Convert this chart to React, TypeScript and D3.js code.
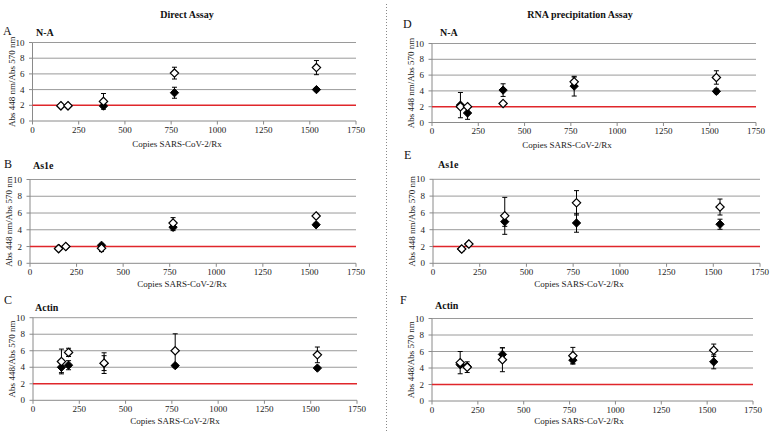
import React from "react";
import * as d3 from "d3";

// ---- data ----
const copies = [153.6, 192, 384, 768, 1536];
const xTicks = [0, 250, 500, 750, 1000, 1250, 1500, 1750];
const yTicks = [0, 2, 4, 6, 8, 10];
const gridValues = [4, 6, 8, 10];
const cutoff = 2;

// Direct assay
const naDirectFilled = [1.9, 1.9, 1.9, 3.6, 4.0];
const naDirectFilledErr = [0.1, 0.1, 0.15, 0.7, 0.2];
const naDirectOpen = [1.95, 1.95, 2.5, 6.1, 6.8];
const naDirectOpenErr = [0.1, 0.1, 1.0, 0.75, 0.9];

const as1eDirectFilled = [1.8, 2.0, 2.15, 4.3, 4.6];
const as1eDirectFilledErr = [0.15, 0.1, 0.2, 0.4, 0.2];
const as1eDirectOpen = [1.75, 2.0, 1.8, 4.8, 5.65];
const as1eDirectOpenErr = [0.15, 0.1, 0.4, 0.65, 0.2];

const actinDirectFilled = [4.0, 4.25, 4.5, 4.2, 3.9];
const actinDirectFilledErr = [0.65, 0.55, 0.9, 0.15, 0.2];
const actinDirectOpen = [4.7, 5.8, 4.5, 6.0, 5.5];
const actinDirectOpenErr = [1.5, 0.5, 1.25, 2.05, 0.95];

// RNA precipitation assay
const naRnaFilled = [2.2, 1.2, 4.1, 4.6, 3.95];
const naRnaFilledErr = [1.6, 0.8, 0.8, 1.25, 0.3];
const naRnaOpen = [2.0, 2.0, 2.4, 5.15, 5.7];
const naRnaOpenErr = [0.2, 0.15, 0.15, 0.6, 0.85];

const as1eRnaFilled = [1.7, 2.3, 4.95, 4.8, 4.65];
const as1eRnaFilledErr = [0.3, 0.15, 0.55, 1.1, 0.6];
const as1eRnaOpen = [1.7, 2.3, 5.65, 7.2, 6.7];
const as1eRnaOpenErr = [0.3, 0.15, 2.2, 1.45, 0.95];

const actinRnaFilled = [4.4, 4.2, 5.65, 4.95, 4.75];
const actinRnaFilledErr = [0.2, 0.25, 0.8, 0.45, 0.85];
const actinRnaOpen = [4.65, 4.1, 5.0, 5.5, 6.15];
const actinRnaOpenErr = [1.35, 0.65, 1.45, 1.0, 0.75];

const columnTitles = ["Direct Assay", "RNA precipitation Assay"];
const xTitle = "Copies SARS-CoV-2/Rx";
const yTitleLong = "Abs 448 nm/Abs 570 nm";
const yTitleShort = "Abs 448/Abs 570 nm";

const FONT = "'Liberation Serif', 'Times New Roman', serif";

type Panel = {
  letter: string;
  gene: string;
  yTitle: string;
  filled: number[];
  filledErr: number[];
  open: number[];
  openErr: number[];
  // layout
  x0: number; x1: number; y0: number; y10: number;
  letterX: number; letterY: number;
  geneX: number; geneY: number;
  xTitleX: number; xTitleY: number;
  yTitleX: number;
};

const panels: Panel[] = [
  { letter: "A", gene: "N-A", yTitle: yTitleLong, filled: naDirectFilled, filledErr: naDirectFilledErr, open: naDirectOpen, openErr: naDirectOpenErr,
    x0: 32.5, x1: 356, y0: 121, y10: 42.5, letterX: 3, letterY: 35, geneX: 36, geneY: 36, xTitleX: 177, xTitleY: 147, yTitleX: 15 },
  { letter: "B", gene: "As1e", yTitle: yTitleLong, filled: as1eDirectFilled, filledErr: as1eDirectFilledErr, open: as1eDirectOpen, openErr: as1eDirectOpenErr,
    x0: 30, x1: 356, y0: 263.3, y10: 179.5, letterX: 4, letterY: 168, geneX: 33, geneY: 169, xTitleX: 182, xTitleY: 287, yTitleX: 12 },
  { letter: "C", gene: "Actin", yTitle: yTitleShort, filled: actinDirectFilled, filledErr: actinDirectFilledErr, open: actinDirectOpen, openErr: actinDirectOpenErr,
    x0: 33, x1: 357, y0: 400.3, y10: 317.7, letterX: 4, letterY: 304, geneX: 35, geneY: 311, xTitleX: 175, xTitleY: 424, yTitleX: 15 },
  { letter: "D", gene: "N-A", yTitle: yTitleLong, filled: naRnaFilled, filledErr: naRnaFilledErr, open: naRnaOpen, openErr: naRnaOpenErr,
    x0: 432, x1: 756, y0: 122.5, y10: 43.5, letterX: 403, letterY: 28, geneX: 440, geneY: 36, xTitleX: 567, xTitleY: 148, yTitleX: 414 },
  { letter: "E", gene: "As1e", yTitle: yTitleLong, filled: as1eRnaFilled, filledErr: as1eRnaFilledErr, open: as1eRnaOpen, openErr: as1eRnaOpenErr,
    x0: 433, x1: 760, y0: 263.3, y10: 179.3, letterX: 404, letterY: 159, geneX: 438, geneY: 168, xTitleX: 579, xTitleY: 287, yTitleX: 415 },
  { letter: "F", gene: "Actin", yTitle: yTitleShort, filled: actinRnaFilled, filledErr: actinRnaFilledErr, open: actinRnaOpen, openErr: actinRnaOpenErr,
    x0: 432, x1: 753, y0: 401, y10: 318.5, letterX: 400, letterY: 304, geneX: 435, geneY: 309, xTitleX: 579, xTitleY: 424, yTitleX: 414 },
];

const diamond = d3.symbol(d3.symbolDiamond2, 44)() || "";

function PanelView({ p }: { p: Panel }) {
  const x = d3.scaleLinear().domain([0, 1750]).range([p.x0, p.x1]);
  const y = d3.scaleLinear().domain([0, 10]).range([p.y0, p.y10]);
  const cap = 2.5;
  const errBars = (vals: number[], errs: number[], color: string) =>
    vals.map((v, i) => {
      const cx = x(copies[i]);
      const top = y(v + errs[i]);
      const bot = y(v - errs[i]);
      return (
        <g key={i} stroke={color} strokeWidth={1}>
          <line x1={cx} x2={cx} y1={top} y2={bot} />
          <line x1={cx - cap} x2={cx + cap} y1={top} y2={top} />
          <line x1={cx - cap} x2={cx + cap} y1={bot} y2={bot} />
        </g>
      );
    });
  const midY = (p.y0 + p.y10) / 2;
  return (
    <g>
      {/* gridlines */}
      {gridValues.map((g) => (
        <line key={g} x1={p.x0} x2={p.x1} y1={y(g)} y2={y(g)} stroke="#9a9a9a" strokeWidth={1} />
      ))}
      {/* axes */}
      <line x1={p.x0} x2={p.x1} y1={p.y0} y2={p.y0} stroke="#8a8a8a" strokeWidth={1} />
      <line x1={p.x0} x2={p.x0} y1={p.y0} y2={p.y10} stroke="#8a8a8a" strokeWidth={1} />
      {yTicks.map((t) => (
        <g key={t}>
          <line x1={p.x0 - 3.5} x2={p.x0} y1={y(t)} y2={y(t)} stroke="#8a8a8a" />
          <text x={p.x0 - 8} y={y(t) + 3} textAnchor="end" fontSize={9} fontFamily={FONT} fill="#222">{t}</text>
        </g>
      ))}
      {xTicks.map((t) => (
        <g key={t}>
          <line x1={x(t)} x2={x(t)} y1={p.y0} y2={p.y0 + 3.5} stroke="#8a8a8a" />
          <text x={x(t)} y={p.y0 + 11.5} textAnchor="middle" fontSize={9} fontFamily={FONT} fill="#222">{t}</text>
        </g>
      ))}
      {/* cutoff line */}
      <line x1={p.x0} x2={p.x1} y1={y(cutoff)} y2={y(cutoff)} stroke="#e0262b" strokeWidth={1.6} />
      {/* filled series */}
      {errBars(p.filled, p.filledErr, "#000")}
      {p.filled.map((v, i) => (
        <path key={"f" + i} d={diamond} transform={`translate(${x(copies[i])},${y(v)})`} fill="#000" stroke="#000" strokeWidth={1} />
      ))}
      {/* open series */}
      {errBars(p.open, p.openErr, "#000")}
      {p.open.map((v, i) => (
        <path key={"o" + i} d={diamond} transform={`translate(${x(copies[i])},${y(v)})`} fill="#fff" stroke="#000" strokeWidth={1.2} />
      ))}
      {/* texts */}
      <text x={p.letterX} y={p.letterY} fontSize={12} fontFamily={FONT} fill="#111">{p.letter}</text>
      <text x={p.geneX} y={p.geneY} fontSize={10} fontWeight="bold" fontFamily={FONT} fill="#111">{p.gene}</text>
      <text x={p.xTitleX} y={p.xTitleY} textAnchor="middle" fontSize={9} fontFamily={FONT} fill="#222">{xTitle}</text>
      <text transform={`translate(${p.yTitleX},${midY}) rotate(-90)`} textAnchor="middle" fontSize={9} fontFamily={FONT} fill="#222">{p.yTitle}</text>
    </g>
  );
}

export default function App() {
  return (
    <svg width={772} height={432} style={{ position: "absolute", left: 0, top: 0, background: "#fff" }}>
      <rect width={772} height={432} fill="#fff" />
      <text x={187} y={18} textAnchor="middle" fontSize={10} fontWeight="bold" fontFamily={FONT} fill="#111">{columnTitles[0]}</text>
      <text x={580} y={18} textAnchor="middle" fontSize={10} fontWeight="bold" fontFamily={FONT} fill="#111">{columnTitles[1]}</text>
      <line x1={386.5} x2={386.5} y1={4} y2={432} stroke="#888" strokeWidth={1} strokeDasharray="1,2" />
      {panels.map((p) => (
        <PanelView key={p.letter} p={p} />
      ))}
    </svg>
  );
}
